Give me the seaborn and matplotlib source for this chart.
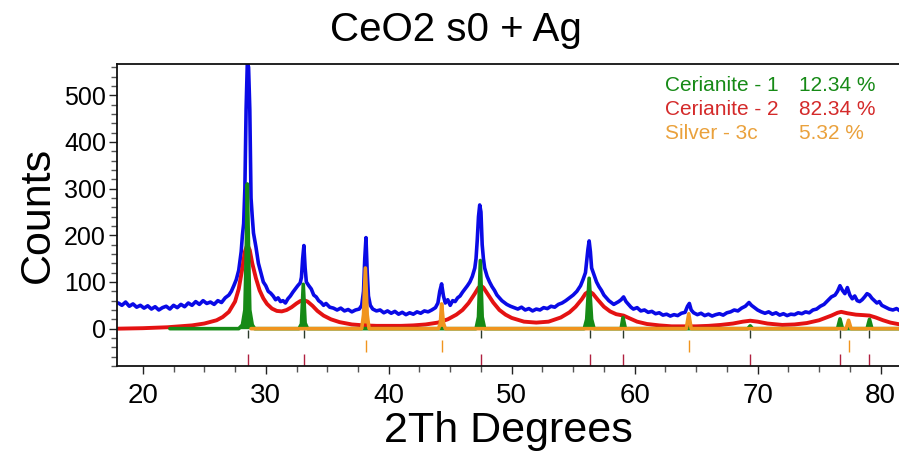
import numpy as np
import matplotlib
matplotlib.use('Agg')
import matplotlib.pyplot as plt
from matplotlib.ticker import MultipleLocator
import seaborn as sns

obs_2th = [18.0, 18.3, 18.6, 18.9, 19.2, 19.5, 19.8, 20.1, 20.4, 20.7, 21.0, 21.3, 21.6, 21.9,
           22.2, 22.5, 22.8, 23.1, 23.4, 23.7, 24.0, 24.3, 24.6, 24.9, 25.2, 25.5, 25.8, 26.1,
           26.4, 26.7, 27.0, 27.2, 27.4, 27.6, 27.8, 28.0, 28.1, 28.2, 28.3, 28.4, 28.5, 28.6,
           28.7, 28.8, 28.9, 29.0, 29.2, 29.4, 29.6, 29.8, 30.0, 30.2, 30.4, 30.6, 30.8, 31.0,
           31.2, 31.4, 31.6, 31.8, 32.0, 32.2, 32.4, 32.6, 32.8, 32.9, 33.0, 33.1, 33.2, 33.3,
           33.5, 33.7, 33.9, 34.1, 34.3, 34.5, 34.7, 34.9, 35.2, 35.5, 35.8, 36.1, 36.4, 36.7,
           37.0, 37.3, 37.6, 37.8, 37.95, 38.05, 38.15, 38.25, 38.35, 38.5, 38.7, 39.0, 39.3,
           39.6, 39.9, 40.2, 40.5, 40.8, 41.1, 41.4, 41.7, 42.0, 42.3, 42.6, 42.9, 43.2, 43.5,
           43.8, 44.0, 44.15, 44.3, 44.45, 44.6, 44.8, 45.0, 45.2, 45.4, 45.6, 45.8, 46.0, 46.2,
           46.4, 46.6, 46.8, 47.0, 47.1, 47.2, 47.3, 47.4, 47.5, 47.6, 47.7, 47.8, 48.0, 48.2,
           48.4, 48.6, 48.8, 49.0, 49.2, 49.4, 49.6, 49.9, 50.2, 50.5, 50.8, 51.1, 51.4, 51.7,
           52.0, 52.3, 52.6, 52.9, 53.2, 53.5, 53.8, 54.1, 54.4, 54.7, 55.0, 55.3, 55.6, 55.8,
           56.0, 56.1, 56.2, 56.3, 56.4, 56.5, 56.7, 56.9, 57.1, 57.3, 57.5, 57.7, 57.9, 58.1,
           58.3, 58.5, 58.7, 58.9, 59.1, 59.3, 59.5, 59.7, 59.9, 60.2, 60.5, 60.8, 61.1, 61.4,
           61.7, 62.0, 62.3, 62.6, 62.9, 63.2, 63.5, 63.8, 64.1, 64.3, 64.45, 64.6, 64.8, 65.1,
           65.4, 65.7, 66.0, 66.3, 66.6, 66.9, 67.2, 67.5, 67.8, 68.1, 68.4, 68.7, 69.0, 69.3,
           69.5, 69.7, 70.0, 70.3, 70.6, 70.9, 71.2, 71.5, 71.8, 72.1, 72.4, 72.7, 73.0, 73.3,
           73.6, 73.9, 74.2, 74.5, 74.8, 75.1, 75.4, 75.7, 76.0, 76.3, 76.5, 76.7, 76.9, 77.1,
           77.3, 77.5, 77.7, 77.9, 78.1, 78.3, 78.5, 78.7, 78.9, 79.1, 79.3, 79.5, 79.7, 79.9,
           80.1, 80.4, 80.7, 81.0, 81.3, 81.6]
obs_counts = [55, 50, 57, 48, 53, 46, 50, 44, 49, 42, 47, 40, 45, 48,
              42, 50, 45, 52, 47, 55, 50, 58, 52, 60, 54, 57, 52, 60,
              56, 66, 72, 80, 92, 105, 125, 165, 200, 225, 300, 470, 570, 560,
              470, 280, 240, 205, 175, 140, 120, 100, 92, 80, 76, 70, 62, 66,
              58, 60, 55, 64, 70, 78, 85, 92, 98, 110, 150, 178, 130, 100,
              92, 85, 72, 68, 60, 56, 50, 54, 46, 44, 40, 44, 38, 41,
              36, 40, 42, 50, 80, 150, 195, 120, 70, 50, 42, 38, 40,
              34, 38, 33, 37, 31, 35, 30, 34, 31, 36, 33, 38, 36, 40,
              45, 55, 80, 96, 70, 55, 62, 50, 60, 58, 66, 70, 78, 85,
              92, 100, 112, 130, 150, 190, 240, 265, 250, 180, 150, 130, 112, 100,
              90, 82, 72, 66, 60, 56, 52, 48, 45, 42, 46, 40, 43, 38,
              42, 40, 45, 43, 48, 46, 52, 55, 60, 66, 72, 80, 92, 105,
              120, 145, 170, 188, 165, 130, 115, 100, 90, 82, 72, 66, 60, 56,
              52, 55, 58, 62, 68, 58, 52, 46, 42, 45, 38, 40, 35, 37,
              32, 34, 29, 31, 27, 30, 28, 33, 35, 48, 54, 40, 34, 30,
              33, 28, 31, 27, 30, 32, 29, 34, 36, 40, 38, 44, 48, 56,
              50, 46, 40, 36, 33, 36, 31, 34, 29, 32, 28, 31, 30, 34,
              32, 36, 34, 40, 42, 48, 52, 60, 68, 72, 80, 92, 82, 75,
              88, 72, 64, 70, 60, 58, 62, 68, 75, 72, 65, 60, 55, 58,
              50, 46, 42, 40, 43, 38]

# Cerianite - 2 calculated profile (red)
cer2_2th = [18, 20, 22, 24, 25, 26, 26.5, 27, 27.5, 27.8, 28.1, 28.3, 28.5, 28.7, 28.9, 29.2,
            29.5, 29.8, 30.1, 30.5, 30.9, 31.3, 31.7, 32.1, 32.5, 32.8, 33.1, 33.4, 33.8, 34.2,
            34.7, 35.3, 36, 37, 38, 39, 40, 41, 42, 43, 44, 44.8, 45.5, 46, 46.5, 47, 47.3,
            47.5, 47.7, 48, 48.5, 49, 49.5, 50, 51, 52, 53, 54, 54.7, 55.2, 55.7, 56.0, 56.3,
            56.6, 57, 57.5, 58, 58.5, 59.1, 59.6, 60.2, 61, 62, 63, 64, 65, 66, 67, 68, 68.8,
            69.4, 70, 70.8, 72, 73, 74, 75, 76, 76.5, 76.8, 77.3, 78, 78.6, 79.1, 79.6, 80.2,
            80.8, 81.6]
cer2_counts = [0, 1, 3, 7, 11, 18, 25, 36, 58, 85, 130, 165, 180, 168, 140, 108,
               82, 65, 53, 43, 38, 37, 40, 46, 54, 59, 61, 58, 49, 38,
               28, 20, 14, 9, 7, 6, 6, 6, 7, 9, 13, 20, 30, 40, 55, 75, 88,
               92, 88, 76, 56, 40, 30, 23, 15, 13, 15, 24, 35, 47, 63, 75, 80,
               75, 62, 47, 37, 31, 28, 22, 15, 10, 7, 5, 5, 5, 6, 8, 11, 15,
               17, 15, 11, 8, 9, 12, 18, 28, 34, 36, 33, 30, 29, 28, 24, 18,
               13, 9]

# Cerianite - 1 calculated profile (green)
cer1_2th = [22.2, 27.8, 28.1, 28.3, 28.4, 28.5, 28.6, 28.7, 28.9, 29.1, 32.7, 32.9, 33.05,
            33.2, 33.4, 47.1, 47.3, 47.45, 47.6, 47.8, 55.9, 56.1, 56.3, 56.5, 56.7, 58.9,
            59.05, 59.25, 69.2, 69.4, 69.6, 76.5, 76.7, 76.9, 78.9, 79.1, 79.3, 81.6]
cer1_counts = [0, 0, 8, 40, 150, 310, 170, 40, 8, 0, 0, 10, 95,
               12, 0, 0, 25, 146, 25, 0, 0, 20, 108, 20, 0, 0,
               24, 0, 0, 6, 0, 0, 21, 0, 0, 20, 0, 0]

# Silver - 3c calculated profile (orange)
ag_2th = [28.8, 37.8, 37.95, 38.1, 38.25, 38.4, 44.05, 44.2, 44.3, 44.45, 44.6,
          64.2, 64.4, 64.6, 77.2, 77.4, 77.6, 81.6]
ag_counts = [0, 0, 30, 130, 30, 0, 0, 12, 53, 12, 0,
             0, 32, 0, 0, 18, 0, 0]

# reflection positions
cer_refl = [28.55, 33.08, 47.48, 56.33, 59.09, 69.4, 76.7, 79.07]
ag_refl = [38.12, 44.3, 64.45, 77.4]

legend_names = ['Cerianite - 1', 'Cerianite - 2', 'Silver - 3c']
legend_pct = ['12.34 %', '82.34 %', '5.32 %']

c_blue = '#0a0ae6'
c_red = '#e41212'
c_green = '#168a16'
c_orange = '#f0941e'

sns.set_style('ticks')
plt.rcParams['font.family'] = ['Liberation Sans', 'DejaVu Sans']
plt.rcParams['text.color'] = 'black'
plt.rcParams['axes.labelcolor'] = 'black'
plt.rcParams['xtick.color'] = 'black'
plt.rcParams['ytick.color'] = 'black'

fig = plt.figure(figsize=(8.99, 4.55), dpi=100)
ax = fig.add_axes([117 / 899, 1 - 366 / 455, 782 / 899, 302 / 455])

sns.lineplot(x=obs_2th, y=obs_counts, ax=ax, color=c_blue, linewidth=2.6, estimator=None)
sns.lineplot(x=cer2_2th, y=cer2_counts, ax=ax, color=c_red, linewidth=2.8, estimator=None)
ax.fill_between(cer1_2th, cer1_counts, color=c_green, linewidth=0)
sns.lineplot(x=cer1_2th, y=cer1_counts, ax=ax, color=c_green, linewidth=2.6, estimator=None)
ax.fill_between(ag_2th, ag_counts, color=c_orange, linewidth=0)
sns.lineplot(x=ag_2th, y=ag_counts, ax=ax, color=c_orange, linewidth=2.6, estimator=None)

# reflection markers
ax.vlines(cer_refl, -20, -3, color='#2b3a2b', linewidth=1.0)
ax.vlines(ag_refl, -50, -25, color=c_orange, linewidth=1.0)
ax.vlines(cer_refl, -80, -55, color='#b02040', linewidth=1.0)

ax.set_xlim(17.9, 81.5)
ax.set_ylim(-80, 567)
ax.xaxis.set_major_locator(MultipleLocator(10))
ax.xaxis.set_minor_locator(MultipleLocator(2.5))
ax.yaxis.set_major_locator(MultipleLocator(100))
ax.yaxis.set_minor_locator(MultipleLocator(20))
ax.tick_params(axis='both', which='major', direction='out', length=6, width=1, color='#222222')
ax.tick_params(axis='both', which='minor', direction='out', length=4, width=1, color='#555555')
ax.tick_params(axis='x', labelsize=20, pad=6, labelcolor='black')
ax.tick_params(axis='y', labelsize=18, pad=2, labelcolor='black')
ax.set_yticks([0, 100, 200, 300, 400, 500])

for side in ['top', 'left', 'bottom']:
    ax.spines[side].set_linewidth(1.3)
    ax.spines[side].set_color('#111111')
ax.spines['right'].set_visible(False)

ax.set_xlabel('2Th Degrees', fontsize=31, labelpad=2, color='black')
ax.set_ylabel('Counts', fontsize=31, labelpad=4, color='black')

fig.text(0.507, 0.935, 'CeO2 s0 + Ag', fontsize=29, ha='center', va='center', color='black')

legend_colors = [c_green, '#d42a2a', '#eaa13c']
for i, (name, pct, col) in enumerate(zip(legend_names, legend_pct, legend_colors)):
    yy = 0.930 - i * 0.080
    ax.text(0.701, yy, name, color=col, fontsize=15, transform=ax.transAxes, va='center', ha='left')
    ax.text(0.872, yy, pct, color=col, fontsize=15, transform=ax.transAxes, va='center', ha='left')

fig.savefig('out.png', dpi=100)
